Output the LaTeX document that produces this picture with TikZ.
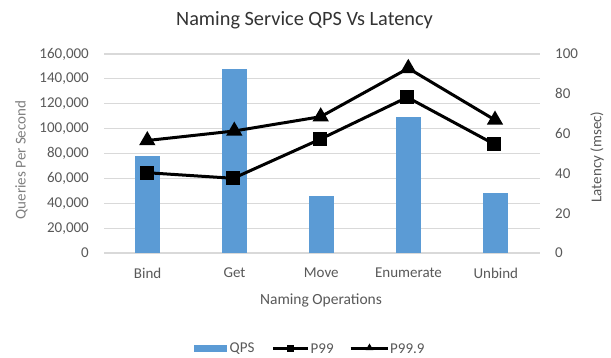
\documentclass[tikz,border=0pt]{standalone}
\usepackage{fontspec}
\setmainfont{Carlito}
\usetikzlibrary{shapes.geometric}
\definecolor{barblue}{HTML}{5B9BD5}
\definecolor{gridgray}{HTML}{D9D9D9}
\definecolor{ticktext}{HTML}{595959}
\definecolor{titletext}{HTML}{333333}
\definecolor{axtitle}{HTML}{7F7F7F}
\tikzset{
  ticklbl/.style={text=ticktext, font=\fontsize{15}{18}\selectfont, inner sep=0pt},
  cattitle/.style={text=ticktext, font=\fontsize{15.5}{18}\selectfont, inner sep=0pt},
  gridln/.style={draw=gridgray, line width=1.2pt},
  qpsbar/.style={fill=barblue, draw=none},
  series/.style={draw=black, line width=3pt, line join=round},
  sqmark/.style={rectangle, fill=black, minimum size=14pt, inner sep=0pt},
  trimark/.style={regular polygon, regular polygon sides=3, fill=black, minimum size=19pt, inner sep=0pt},
  sqsmall/.style={rectangle, fill=black, minimum size=7pt, inner sep=0pt},
  trismall/.style={regular polygon, regular polygon sides=3, fill=black, minimum size=9pt, inner sep=0pt},
  legline/.style={draw=black, line width=3pt},
}
\begin{document}
\begin{tikzpicture}[x=1pt, y=-1pt]
\useasboundingbox (0,0) rectangle (611,358);
\fill[white] (0,0) rectangle (611,358);

% title
\node[text=titletext, font=\fontsize{20.3}{23}\selectfont, inner sep=0pt] (title) at (304.5,20) {Naming Service QPS Vs Latency};

% horizontal gridlines and left/right tick labels
\foreach \i/\q in {0/0,1/20,2/40,3/60,4/80,5/100,6/120,7/140,8/160} {
  \pgfmathsetmacro{\yy}{253-\i*24.875}
  \draw[gridln] (104,\yy) -- (539.5,\yy);
  \ifnum\i=0
    \node[ticklbl, anchor=east] (ql\i) at (89,\yy) {0};
  \else
    \node[ticklbl, anchor=east] (ql\i) at (89,\yy) {\q,000};
  \fi
}
\foreach \i/\l in {0/0,1/20,2/40,3/60,4/80,5/100} {
  \pgfmathsetmacro{\yy}{253-\i*39.8}
  \node[ticklbl, anchor=west] (lr\i) at (555,\yy) {\l};
}

% axis titles
\node[text=axtitle, font=\fontsize{15}{18}\selectfont, rotate=90, inner sep=0pt] (ytitle) at (21.5,160) {Queries Per Second};
\node[text=ticktext, font=\fontsize{15}{18}\selectfont, rotate=90, inner sep=0pt] (y2title) at (597,157) {Latency (msec)};
\node[cattitle] (xtitle) at (321,300) {Naming Operations};

% QPS bars (y = 253 - qps*199/160000)
\foreach \c/\top in {147.6/156, 234.5/69, 321.3/196, 408.5/117.4, 495.8/193.3} {
  \fill[qpsbar] (\c-12.5,253) rectangle (\c+12.5,\top);
}

% category labels
\node[ticklbl] (cBind) at (147.6,273) {Bind};
\node[ticklbl] (cGet) at (234.5,273) {Get};
\node[ticklbl] (cMove) at (321.3,273) {Move};
\node[ticklbl] (cEnum) at (408.5,273) {Enumerate};
\node[ticklbl] (cUnbind) at (495.8,273) {Unbind};

% P99.9 latency (triangles)
\node[trimark] (t1) at (147.3,140.5) {};
\node[trimark] (t2) at (234.3,131) {};
\node[trimark] (t3) at (320.7,116.7) {};
\node[trimark] (t4) at (408.3,68.3) {};
\node[trimark] (t5) at (495,120) {};
\draw[series] (t1.center) -- (t2.center) -- (t3.center) -- (t4.center) -- (t5.center);

% P99 latency (squares)
\node[sqmark] (s1) at (146.7,172.7) {};
\node[sqmark] (s2) at (233.3,178.3) {};
\node[sqmark] (s3) at (320,139.3) {};
\node[sqmark] (s4) at (407.3,97.3) {};
\node[sqmark] (s5) at (494,144) {};
\draw[series] (s1.center) -- (s2.center) -- (s3.center) -- (s4.center) -- (s5.center);

% legend
\fill[barblue] (194,345) rectangle (227.3,352);
\node[ticklbl, anchor=west] (lgQPS) at (229.5,348.5) {QPS};
\coordinate (la) at (273.3,348.5);
\coordinate (lb) at (308.3,348.5);
\draw[legline] (la) -- (lb);
\node[sqsmall] (lsq) at (290.8,348.5) {};
\node[ticklbl, anchor=west] (lgP99) at (310.5,348.5) {P99};
\coordinate (lc) at (350.7,348.5);
\coordinate (ld) at (388.3,348.5);
\draw[legline] (lc) -- (ld);
\node[trismall] (ltri) at (369.5,348) {};
\node[ticklbl, anchor=west] (lgP999) at (390,348.5) {P99.9};
\end{tikzpicture}
\end{document}
